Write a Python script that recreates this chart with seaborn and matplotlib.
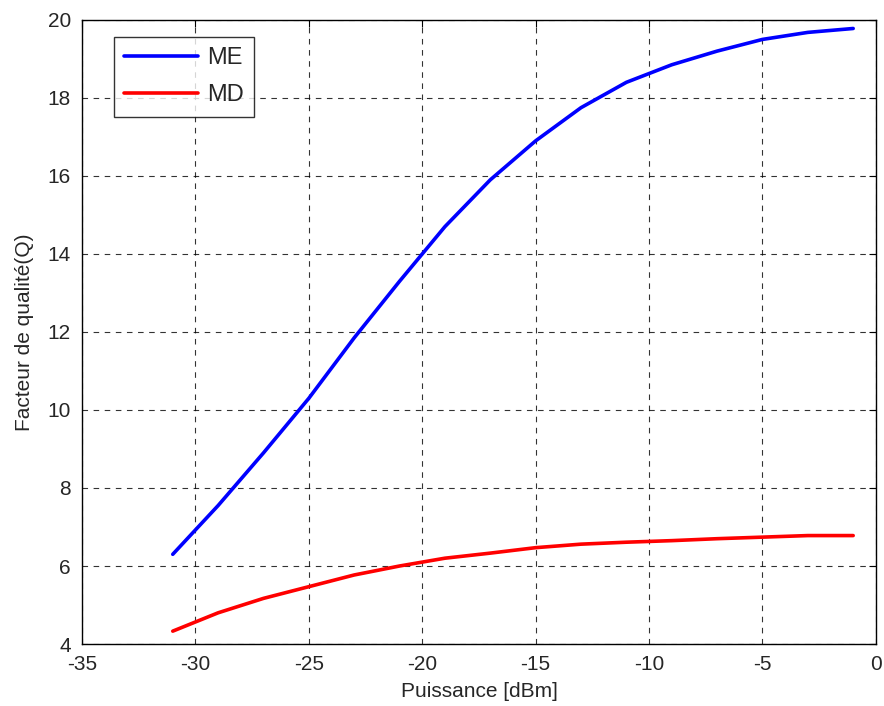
import matplotlib
matplotlib.use("Agg")
import matplotlib.pyplot as plt
import seaborn as sns
import pandas as pd
import numpy as np

power = [-31, -29, -27, -25, -23, -21, -19, -17, -15, -13, -11, -9, -7, -5, -3, -1]
me_values = [6.3, 7.55, 8.9, 10.3, 11.85, 13.3, 14.7, 15.9, 16.9, 17.75, 18.4, 18.85, 19.2, 19.5, 19.68, 19.78]
md_values = [4.33, 4.8, 5.17, 5.47, 5.77, 6.0, 6.2, 6.33, 6.47, 6.56, 6.61, 6.65, 6.7, 6.74, 6.78, 6.78]
series_names = ["ME", "MD"]
x_ticks = [-35, -30, -25, -20, -15, -10, -5, 0]
y_ticks = [4, 6, 8, 10, 12, 14, 16, 18, 20]

df = pd.DataFrame({
    "Puissance": power * 2,
    "Q": me_values + md_values,
    "Serie": [series_names[0]] * len(power) + [series_names[1]] * len(power),
})

sns.set_style("white")
plt.rcParams['font.family'] = ['Liberation Sans', 'DejaVu Sans']

fig = plt.figure(figsize=(8.84, 7.06), dpi=100)
ax = fig.add_axes([0.0928, 0.0878, 0.898, 0.884])

sns.lineplot(data=df, x="Puissance", y="Q", hue="Serie",
             palette={"ME": "#0000ff", "MD": "#ff0000"},
             linewidth=2.6, ax=ax, estimator=None, sort=False)

ax.set_xlim(-35, 0)
ax.set_ylim(4, 20)
ax.set_xticks(x_ticks)
ax.set_yticks(y_ticks)
ax.set_xticklabels([str(t) for t in x_ticks], fontsize=15)
ax.set_yticklabels([str(t) for t in y_ticks], fontsize=15)
ax.grid(True, color="black", linestyle=(0, (5, 5)), linewidth=0.8, alpha=0.8)
ax.tick_params(direction="in", length=5, color="black", top=True, right=True)
ax.tick_params(axis="x", pad=8)
ax.tick_params(axis="y", pad=8)
for s in ax.spines.values():
    s.set_color("black")
    s.set_linewidth(1.0)
    s.set_visible(True)

ax.set_xlabel("Puissance [dBm]", fontsize=15, labelpad=6)
ax.set_ylabel("Facteur de qualité(Q)", fontsize=15, labelpad=10)

leg = ax.legend(loc="upper left", bbox_to_anchor=(0.040, 0.973), borderaxespad=0,
                fontsize=17, frameon=True, fancybox=False, edgecolor="black",
                handlelength=3.1, borderpad=0.45, labelspacing=0.62, handletextpad=0.4)
leg.get_frame().set_linewidth(1.0)
leg.set_title(None)

fig.savefig("out.png", dpi=100)
